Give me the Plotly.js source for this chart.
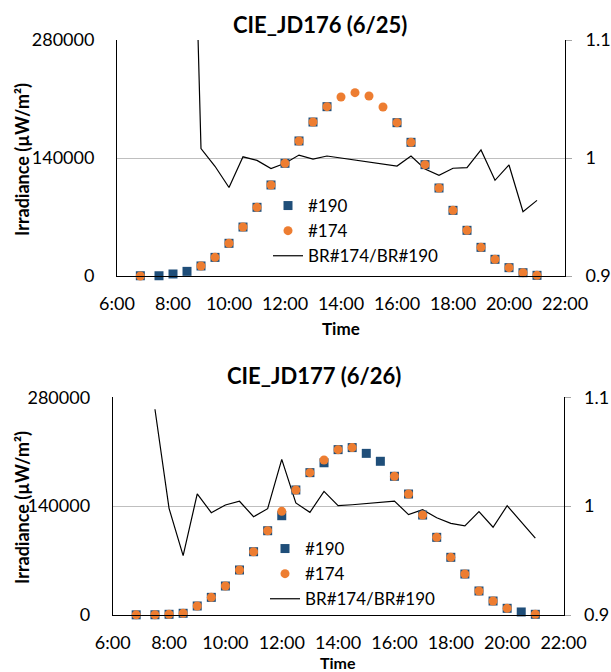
<!DOCTYPE html>
<html>
<head>
<meta charset="utf-8">
<script src="https://cdn.plot.ly/plotly-3.0.1.min.js"></script>
<style>html,body{margin:0;padding:0;background:#fff;}#chart{width:611px;height:672px;}</style>
</head>
<body>
<div id="chart"></div>
<script>
// ---- data ----
var times = ['06:50','07:30','08:00','08:30','09:00','09:30','10:00','10:30','11:00','11:30','12:00','12:30','13:00','13:30','14:00','14:30','15:00','15:30','16:00','16:30','17:00','17:30','18:00','18:30','19:00','19:30','20:00','20:30','21:00'];

// CIE_JD176 (6/25)
var day1_s190 = [300,300,2400,5500,11900,22100,38800,58100,81500,108000,133700,160200,182700,200900,null,null,null,null,181900,158600,132100,104400,77900,54200,34000,19800,9900,3900,800];
var day1_s174 = [0,null,null,null,11900,22100,38800,58100,81500,108000,133700,160200,182700,200900,212400,217500,213600,200500,181900,158600,132100,104400,77900,54200,34000,19800,9900,3900,800];
var day1_ratio = [null,null,null,1.45,1.008,0.993,0.975,1.001,0.998,0.991,0.9955,1.0025,0.999,1.0017,null,null,null,null,0.9932,1.0017,0.9907,0.9853,0.9913,0.9918,1.0068,0.9811,0.9941,0.9545,0.9641];

// CIE_JD177 (6/26)
var day2_s190 = [200,300,900,2200,11600,22700,37300,57900,81400,108400,127700,160800,183100,195800,212700,215300,207900,197700,178400,155600,128600,99900,74200,52700,30900,18000,8600,3900,900];
var day2_s174 = [200,300,900,2200,11600,22700,37300,57900,81400,108400,133300,160800,183100,199300,212700,215300,null,null,178400,155600,128600,99900,74200,52700,30900,18000,8600,null,900];
var day2_ratio = [null,1.089,0.998,0.9545,1.0112,0.994,1.0011,1.0045,0.9903,0.9977,1.043,1.0029,0.9943,1.0136,1.0004,1.0013,null,null,1.0047,0.9922,0.9967,0.9894,0.9842,0.9818,0.9949,0.9806,1.0004,null,0.9707];

var chartTitles = ['CIE_JD176 (6/25)', 'CIE_JD177 (6/26)'];
var dates = ['2024-06-25', '2024-06-26'];
var seriesNames = ['#190', '#174', 'BR#174/BR#190'];
var irrTicks = [0, 140000, 280000];
var ratioTicks = [0.9, 1, 1.1];

// ---- build ----
var BLUE = '#1F4E79', ORANGE = '#ED7D31';
var FONT = 'Lato, "Open Sans", "Noto Sans", sans-serif';

function xs(d){ return times.map(function(t){ return d + ' ' + t; }); }

var data = [];
var sets = [[day1_s190, day1_s174, day1_ratio],[day2_s190, day2_s174, day2_ratio]];
var ax = [{x:'x', yr:'y', yi:'y2', lg:'legend'}, {x:'x2', yr:'y3', yi:'y4', lg:'legend2'}];
for (var i = 0; i < 2; i++) {
  var X = xs(dates[i]);
  data.push({type:'scatter', mode:'markers', name:seriesNames[0], x:X, y:sets[i][0],
    xaxis:ax[i].x, yaxis:ax[i].yi, legend:ax[i].lg, cliponaxis:false,
    marker:{symbol:'square', size:9, color:BLUE}});
  data.push({type:'scatter', mode:'markers', name:seriesNames[1], x:X, y:sets[i][1],
    xaxis:ax[i].x, yaxis:ax[i].yi, legend:ax[i].lg, cliponaxis:false,
    marker:{symbol:'circle', size:9, color:ORANGE}});
  data.push({type:'scatter', mode:'lines', name:seriesNames[2], x:X, y:sets[i][2],
    xaxis:ax[i].x, yaxis:ax[i].yr, legend:ax[i].lg, connectgaps:true,
    line:{color:'#000', width:1.2}});
}

function xAxis(dom, anchor, d){
  return {domain:dom, anchor:anchor, type:'date',
    range:[d+' 06:00', d+' 22:00'], tick0:d+' 06:00', dtick:7200000, tickformat:'%-H:%M',
    showline:true, linecolor:'#000', linewidth:1, showgrid:false, zeroline:false,
    ticks:'', ticklabelstandoff:11, tickfont:{size:18, color:'#000'}, automargin:false, fixedrange:true};
}
function ratioAxis(dom, anchor){
  return {domain:dom, anchor:anchor, side:'right', range:[0.9,1.1], tickvals:ratioTicks,
    ticktext:ratioTicks.map(function(v){return String(v);}),
    showline:true, linecolor:'#000', linewidth:1, showgrid:true, gridcolor:'#bfbfbf', gridwidth:1,
    zeroline:false, ticks:'outside', ticklen:6, tickcolor:'#a6a6a6', ticklabelstandoff:10,
    tickfont:{size:18, color:'#000'}, automargin:false, fixedrange:true};
}
function irrAxis(over, anchor){
  return {overlaying:over, anchor:anchor, side:'left', range:[0,280000], tickvals:irrTicks,
    ticktext:irrTicks.map(function(v){return String(v);}),
    showline:true, linecolor:'#000', linewidth:1, showgrid:false, zeroline:false, ticks:'',
    ticklabelstandoff:18, tickfont:{size:18, color:'#000'}, automargin:false, fixedrange:true};
}

var topX = [117/611, 565/611], botX = [112.7/611, 563.5/611];
var topY = [(672-276)/672, (672-40)/672], botY = [(672-615)/672, (672-397.3)/672];

function ann(text, x, y, size, angle){
  return {text:text, x:x, y:y, xref:'paper', yref:'paper', xanchor:'center', yanchor:'middle',
    showarrow:false, textangle:angle||0, font:{size:size, color:'#000', family:FONT}};
}

var layout = {
  width:611, height:672, margin:{l:0,r:0,t:0,b:0}, paper_bgcolor:'#fff', plot_bgcolor:'rgba(0,0,0,0)',
  font:{family:FONT, size:18, color:'#000'},
  xaxis:xAxis(topX, 'y', dates[0]),
  yaxis:ratioAxis(topY, 'x'),
  yaxis2:irrAxis('y', 'x'),
  xaxis2:xAxis(botX, 'y3', dates[1]),
  yaxis3:ratioAxis(botY, 'x2'),
  yaxis4:irrAxis('y3', 'x2'),
  legend:{x:268/611, y:(672-188)/672, xanchor:'left', yanchor:'top', bgcolor:'rgba(0,0,0,0)',
    font:{size:17, color:'#000'}, itemwidth:30, tracegroupgap:0},
  legend2:{x:265/611, y:(672-531)/672, xanchor:'left', yanchor:'top', bgcolor:'rgba(0,0,0,0)',
    font:{size:17, color:'#000'}, itemwidth:30, tracegroupgap:0},
  showlegend:true,
  annotations:[
    ann('<b>'+chartTitles[0]+'</b>', 320/611, (672-25)/672, 22),
    ann('<b>'+chartTitles[1]+'</b>', 314/611, (672-375)/672, 22),
    ann('<b>Irradiance (µW/m²)</b>', 22/611, (672-160)/672, 18, -90),
    ann('<b>Irradiance (µW/m²)</b>', 22/611, (672-508)/672, 18, -90),
    ann('<b>Time</b>', 341/611, (672-328)/672, 17),
    ann('<b>Time</b>', 338/611, (672-662.5)/672, 16)
  ]
};

Plotly.newPlot('chart', data, layout, {displayModeBar:false, staticPlot:true});
</script>
</body>
</html>
